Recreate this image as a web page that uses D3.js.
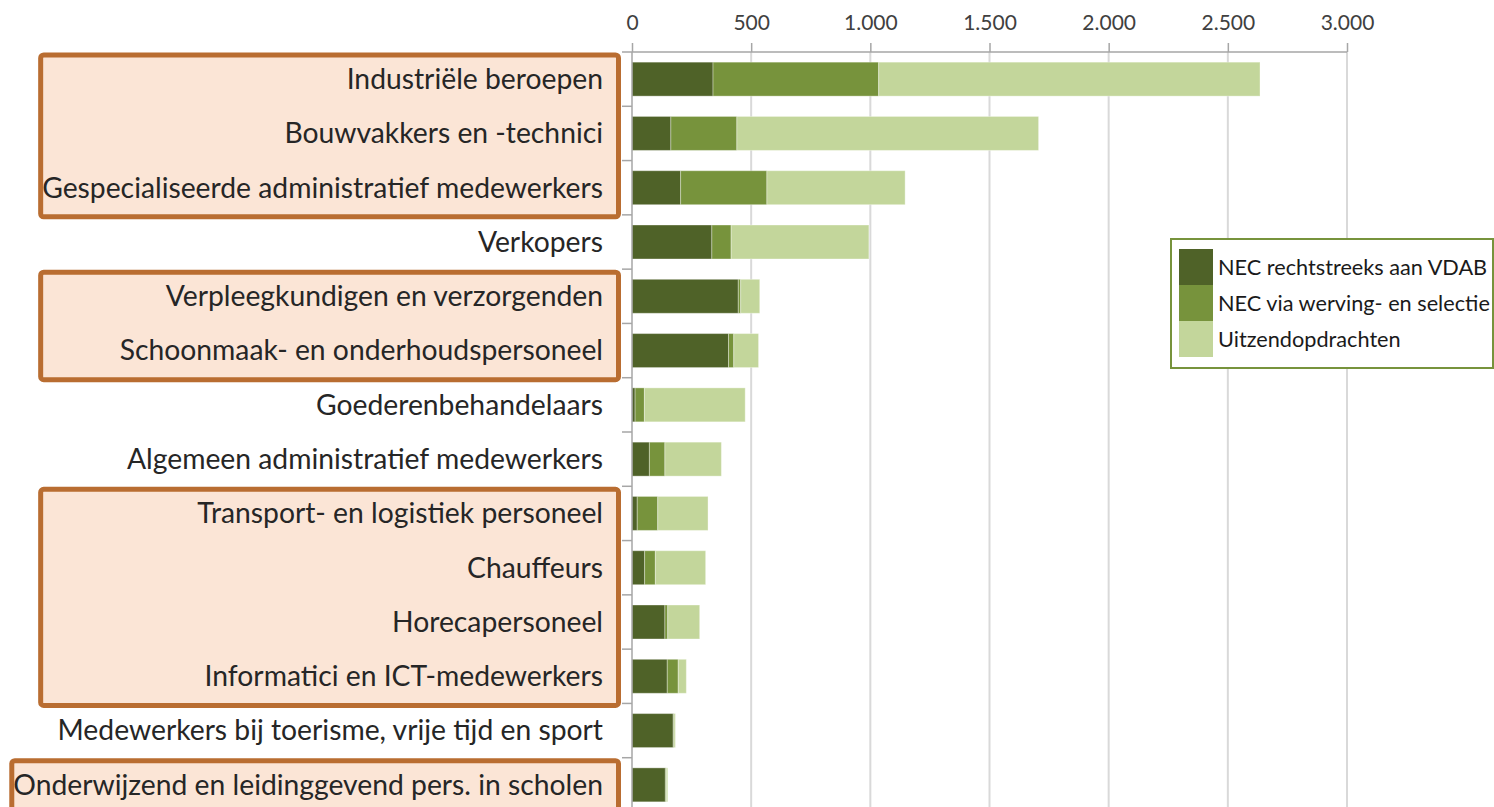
<!DOCTYPE html>
<html>
<head>
<meta charset="utf-8">
<script src="https://cdn.jsdelivr.net/npm/d3@7"></script>
<style>
  html, body { margin: 0; padding: 0; background: #ffffff; }
  svg { display: block; font-family: Lato, "Open Sans", sans-serif; }
</style>
</head>
<body>
<svg id="chart" width="1494" height="807"></svg>
<script>
// ---- data ----
var categories = [
    "Industriële beroepen",
    "Bouwvakkers en -technici",
    "Gespecialiseerde administratief medewerkers",
    "Verkopers",
    "Verpleegkundigen en verzorgenden",
    "Schoonmaak- en onderhoudspersoneel",
    "Goederenbehandelaars",
    "Algemeen administratief medewerkers",
    "Transport- en logistiek personeel",
    "Chauffeurs",
    "Horecapersoneel",
    "Informatici en ICT-medewerkers",
    "Medewerkers bij toerisme, vrije tijd en sport",
    "Onderwijzend en leidinggevend pers. in scholen"
];
var necDirect    = [340, 163, 204, 335, 446, 405, 13, 73, 22, 53, 138, 148, 173, 140];
var necSelection = [695, 277, 362, 81, 10, 22, 39, 65, 86, 45, 12, 46, 3, 4];
var interim      = [1600, 1266, 580, 578, 80, 104, 423, 237, 211, 211, 134, 34, 6, 6];

var seriesNames = ["NEC rechtstreeks aan VDAB", "NEC via werving- en selectie", "Uitzendopdrachten"];
var xTicks = [0, 500, 1000, 1500, 2000, 2500, 3000];

// highlighted category groups (first index, last index)
var highlightGroups = [[0, 2], [4, 5], [8, 11], [13, 13]];


// ---- setup ----
var svg = d3.select("#chart");
var colors = ["#4f6228", "#77933c", "#c3d69b"];
var keys = ["a", "b", "c"];

var rows = categories.map(function(c, i) {
    return {cat: c, a: necDirect[i], b: necSelection[i], c: interim[i]};
});

var x = d3.scaleLinear()
    .domain([0, 3000])
    .range([632, 1347]);

var y = d3.scaleBand()
    .domain(categories)
    .range([52, 812])
    .paddingInner(0.374)
    .paddingOuter(0.187);

var nl = d3.formatLocale({decimal: ",", thousands: ".", grouping: [3], currency: ["€", ""]});
var fmt = nl.format(",d");


//Category labels (measured first so the boxes can be sized round them)
var labelG = svg.append("g");
var labels = labelG.selectAll("text")
    .data(categories)
    .enter().append("text")
    .attr("x", 603)
    .attr("y", function(d) {return y(d) + y.bandwidth() / 2;})
    .attr("dy", "0.35em")
    .attr("text-anchor", "end")
    .attr("fill", "#262626")
    .style("font-size", "24px")
    .text(function(d) {return d;});

//fit font so the longest label spans the same width as in the original
var maxW = d3.max(labels.nodes(), function(n) {return n.getComputedTextLength();});
labels.style("font-size", (24 * 590 / maxW).toFixed(2) + "px");

var labelLeft = labels.nodes().map(function(n) {return 603 - n.getComputedTextLength();});


//Highlight boxes behind labels
var refLeft = d3.min(labelLeft.slice(highlightGroups[0][0], highlightGroups[0][1] + 1));
var boxG = svg.insert("g", ":first-child");
highlightGroups.forEach(function(g) {
    var left = Math.min(refLeft, d3.min(labelLeft.slice(g[0], g[1] + 1))) - 4;
    var top = y(categories[g[0]]) - y.step() * y.paddingOuter() + 3;
    var bottom = y(categories[g[1]]) + y.bandwidth() + y.step() * y.paddingOuter() + 2;
    boxG.append("rect")
        .attr("x", left + 2.5)
        .attr("y", top)
        .attr("width", 618.5 - (left + 2.5))
        .attr("height", bottom - top)
        .attr("rx", 3)
        .attr("fill", "#fbe5d6")
        .attr("stroke", "#b96d31")
        .attr("stroke-width", 5);
});


//Gridlines
svg.append("g").selectAll("line")
    .data(xTicks.slice(1))
    .enter().append("line")
    .attr("x1", function(d) {return x(d);})
    .attr("x2", function(d) {return x(d);})
    .attr("y1", 52)
    .attr("y2", 807)
    .attr("stroke", "#d9d9d9")
    .attr("stroke-width", 2);


//Top axis
var xAxis = d3.axisTop(x)
    .tickValues(xTicks)
    .tickFormat(fmt)
    .tickSize(9)
    .tickSizeOuter(0)
    .tickPadding(13);

var axG = svg.append("g")
    .attr("transform", "translate(0,52)")
    .call(xAxis);
axG.select(".domain").attr("stroke", "#a6a6a6").attr("stroke-width", 1.5)
    .attr("d", "M622,0H" + x.range()[1]);
axG.selectAll(".tick line").attr("stroke", "#a6a6a6").attr("stroke-width", 1.5);
axG.selectAll(".tick text")
    .attr("fill", "#404040")
    .style("font-size", "21px")
    .style("font-family", "Lato, sans-serif");


//Stacked bars
var stacked = d3.stack().keys(keys)(rows);

svg.append("g").selectAll("g")
    .data(stacked)
    .enter().append("g")
    .attr("fill", function(d, i) {return colors[i];})
    .selectAll("rect")
    .data(function(d) {return d;})
    .enter().append("rect")
    .attr("x", function(d) {return x(d[0]);})
    .attr("y", function(d) {return y(d.data.cat);})
    .attr("width", function(d) {return x(d[1]) - x(d[0]);})
    .attr("height", y.bandwidth())
    .attr("stroke", "rgba(255,255,255,0.35)")
    .attr("stroke-width", 1);


//Left axis line with ticks between categories
var yG = svg.append("g");
yG.append("line")
    .attr("x1", 632).attr("x2", 632)
    .attr("y1", 52).attr("y2", 807)
    .attr("stroke", "#a6a6a6")
    .attr("stroke-width", 1.5);
yG.selectAll(".sep")
    .data(d3.range(1, categories.length))
    .enter().append("line")
    .attr("class", "sep")
    .attr("x1", 622).attr("x2", 632)
    .attr("y1", function(i) {return y.range()[0] + i * y.step();})
    .attr("y2", function(i) {return y.range()[0] + i * y.step();})
    .attr("stroke", "#a6a6a6")
    .attr("stroke-width", 1.5);


//Legend
var lg = svg.append("g");
lg.append("rect")
    .attr("x", 1171).attr("y", 239)
    .attr("width", 322).attr("height", 129)
    .attr("fill", "#ffffff")
    .attr("stroke", "#77933c")
    .attr("stroke-width", 2);

var items = lg.selectAll(".item")
    .data(seriesNames)
    .enter().append("g")
    .attr("class", "item")
    .attr("transform", function(d, i) {return "translate(1179," + (249 + i * 36) + ")";});

items.append("rect")
    .attr("width", 34).attr("height", 36)
    .attr("fill", function(d, i) {return colors[i];});

var legText = items.append("text")
    .attr("x", 39).attr("y", 18)
    .attr("dy", "0.35em")
    .attr("fill", "#1a1a1a")
    .style("font-size", "18px")
    .text(function(d) {return d;});

var legW = d3.max(legText.nodes(), function(n) {return n.getComputedTextLength();});
legText.style("font-size", (18 * 272 / legW).toFixed(2) + "px");
</script>
</body>
</html>
